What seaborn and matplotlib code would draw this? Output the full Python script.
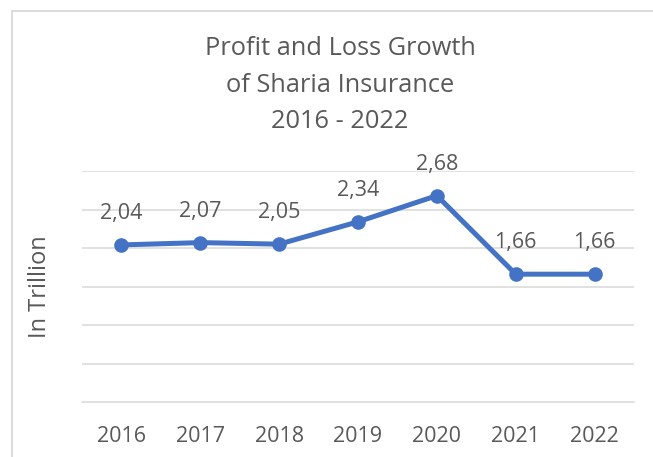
import numpy as np
import pandas as pd
import seaborn as sns
import matplotlib.pyplot as plt
from matplotlib.lines import Line2D

# --- DATA ---
years = ['2016', '2017', '2018', '2019', '2020', '2021', '2022']
profit_loss = [2.04, 2.07, 2.05, 2.34, 2.68, 1.66, 1.66]
value_labels = ['2,04', '2,07', '2,05', '2,34', '2,68', '1,66', '1,66']

df = pd.DataFrame({'Year': years, 'Value': profit_loss})
df['pos'] = np.arange(len(df))

sns.set_theme(style='white')
plt.rcParams['font.family'] = ['Open Sans', 'DejaVu Sans']

TXT = '#595959'
GRID = '#d9d9d9'
BLUE = '#4472C4'

fig = plt.figure(figsize=(6.53, 4.57), dpi=100)
ax = fig.add_axes([82/653, 1 - 402/457, (634 - 82)/653, (402 - 171)/457])

sns.lineplot(data=df, x='pos', y='Value', ax=ax, color=BLUE, linewidth=3.6,
             marker='o', markersize=10.5, markeredgewidth=0, zorder=3)

for x, y, lab in zip(df['pos'], df['Value'], value_labels):
    ax.annotate(lab, (x, y), xytext=(0, 15), textcoords='offset points',
                ha='center', va='bottom', fontsize=15.5, color=TXT)

ax.set_xlim(-0.5, len(years) - 0.5)
ax.set_ylim(0, 3)
ax.set_yticks(np.arange(0.5, 3.01, 0.5))
ax.set_yticklabels([])
ax.tick_params(axis='y', length=0)
ax.grid(axis='y', color=GRID, linewidth=1.1)
ax.set_axisbelow(True)

ax.set_xticks(df['pos'])
ax.set_xticklabels(years, fontsize=15.5, color=TXT)
ax.set_xticks(np.arange(-0.5, len(years), 1), minor=True)
ax.tick_params(axis='x', which='major', length=0, pad=17)
ax.tick_params(axis='x', which='minor', length=6, width=1.1, color=GRID, direction='out')

for s in ['top', 'right', 'left']:
    ax.spines[s].set_visible(False)
ax.spines['bottom'].set_color(GRID)
ax.spines['bottom'].set_linewidth(1.1)

ax.set_xlabel('')
ax.set_ylabel('In Trillion', fontsize=17, color=TXT, labelpad=18)

fig.text(340/653, 1 - 85/457, 'Profit and Loss Growth\nof Sharia Insurance\n2016 - 2022',
         ha='center', va='center', fontsize=18.3, color=TXT, linespacing=1.62)

# chart border (only top and left edges show in the crop)
fig.add_artist(Line2D([11.5/653, 1], [1 - 10.5/457] * 2, transform=fig.transFigure,
                      color=GRID, linewidth=1.3))
fig.add_artist(Line2D([11.5/653] * 2, [0, 1 - 10.5/457], transform=fig.transFigure,
                      color=GRID, linewidth=1.3))

fig.savefig('out.png', dpi=100)
